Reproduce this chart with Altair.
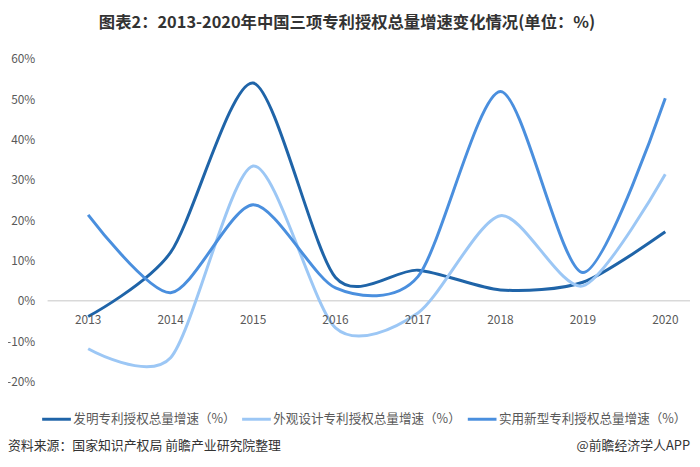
import altair as alt
import pandas as pd

years = [2013, 2014, 2015, 2016, 2017, 2018, 2019, 2020]
series_names = ["发明专利授权总量增速（%）", "外观设计专利授权总量增速（%）", "实用新型专利授权总量增速（%）"]
invention = [-3.9, 12.0, 54.0, 5.8, 7.6, 2.7, 4.6, 17.1]
design = [-11.9, -14.1, 33.4, -6.7, -3.0, 21.1, 3.7, 31.4]
utility = [21.3, 2.0, 23.8, 3.2, 6.0, 51.9, 7.0, 50.2]
colors = ["#1F64A8", "#9CC7F5", "#4A8FDE"]
y_ticks = [-20, -10, 0, 10, 20, 30, 40, 50, 60]
title_text = "图表2：2013-2020年中国三项专利授权总量增速变化情况(单位：%)"
source_text = "资料来源：国家知识产权局 前瞻产业研究院整理"
brand_text = "@前瞻经济学人APP"

FONT = "Noto Sans CJK SC"

rows = []
for name, vals in zip(series_names, [invention, design, utility]):
    for yr, v in zip(years, vals):
        rows.append({"year": yr, "value": v, "series": name})
df = pd.DataFrame(rows)

W, H = 649, 326
xscale = alt.Scale(domain=[2012.508, 2020.3], nice=False, zero=False)
yscale = alt.Scale(domain=[-20, 60], nice=False, zero=False)
y_axis = alt.Axis(
    values=y_ticks,
    labelExpr="datum.value + '%'",
    grid=False,
    ticks=False,
    domain=False,
    labelPadding=13,
    labelFontSize=12,
    labelColor="#595959",
    labelFont=FONT,
    title=None,
)

zero_line = alt.Chart(pd.DataFrame({"value": [0]})).mark_rule(
    color="#d9d9d9", strokeWidth=1.5
).encode(y=alt.Y("value:Q", scale=yscale, axis=y_axis))

lines = alt.Chart(df).mark_line(interpolate="cardinal", tension=0.2, strokeWidth=3).encode(
    x=alt.X("year:Q", scale=xscale, axis=None),
    y=alt.Y("value:Q", scale=yscale, axis=y_axis),
    color=alt.Color(
        "series:N",
        scale=alt.Scale(domain=series_names, range=colors),
        sort=series_names,
        legend=alt.Legend(
            orient="none",
            legendX=-7,
            legendY=348,
            direction="horizontal",
            symbolType="stroke",
            symbolSize=841,
            symbolStrokeWidth=3,
            labelFontSize=12.7,
            labelColor="#595959",
            labelFont=FONT,
            labelOffset=1,
            columnPadding=0,
            labelLimit=400,
            padding=0,
            title=None,
        ),
    ),
)

year_df = pd.DataFrame({"year": years, "label": [str(y) for y in years], "value": [0] * len(years)})
year_labels = alt.Chart(year_df).mark_text(
    dy=19, fontSize=12, color="#595959", font=FONT
).encode(
    x=alt.X("year:Q", scale=xscale, axis=None),
    y=alt.Y("value:Q", scale=yscale, axis=y_axis),
    text="label:N",
)

source = alt.Chart(pd.DataFrame({"t": [source_text]})).mark_text(
    align="left", baseline="middle", fontSize=13, color="#333333", font=FONT
).encode(x=alt.value(-40), y=alt.value(391), text="t:N")

brand = alt.Chart(pd.DataFrame({"t": [brand_text]})).mark_text(
    align="right", baseline="middle", fontSize=13, color="#333333", font=FONT
).encode(x=alt.value(649), y=alt.value(391), text="t:N")

chart = alt.layer(zero_line, lines, year_labels, source, brand).properties(
    width=W,
    height=H,
    autosize=alt.AutoSizeParams(type="none"),
    padding={"left": 40, "top": 49, "right": 2, "bottom": 75},
    title=alt.TitleParams(
        text=title_text,
        fontSize=16.5,
        fontWeight="bold",
        color="#333333",
        font=FONT,
        anchor="middle",
        dx=-22,
        offset=22,
    ),
).configure_view(stroke=None)

chart.save("out.html", embed_options={"renderer": "svg", "actions": False})
